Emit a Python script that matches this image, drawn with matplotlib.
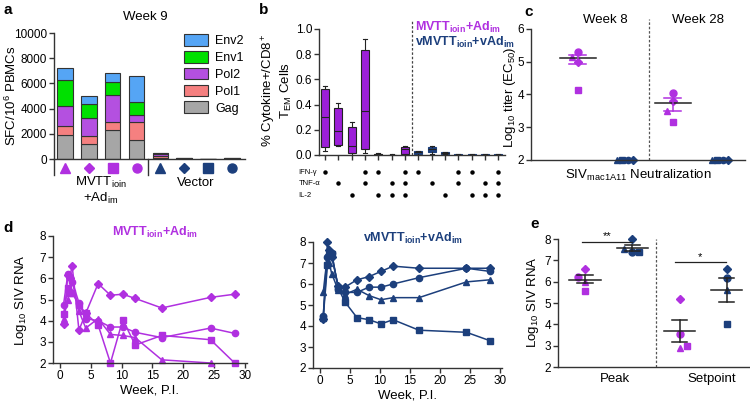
import matplotlib
matplotlib.use('Agg')
import matplotlib.pyplot as plt
import matplotlib.transforms as mtransforms
from matplotlib.patches import Patch
import numpy as np

plt.rcParams['font.family'] = ['Liberation Sans', 'DejaVu Sans']
plt.rcParams['mathtext.fontset'] = 'custom'
plt.rcParams['mathtext.rm'] = 'Liberation Sans'
plt.rcParams['mathtext.it'] = 'Liberation Sans:italic'
plt.rcParams['mathtext.bf'] = 'Liberation Sans:bold'

PINK = '#b030e0'
NAVY = '#1c3f7c'
AXC = '#333333'

# ---------------- data ----------------
# panel a (SFC / 10^6 PBMCs, Week 9), 4 vaccinees + 4 vector controls
a_markers = ['^', 'D', 's', 'o', '^', 'D', 's', 'o']
a_gag = [1900, 1200, 2300, 1500, 100, 25, 0, 20]
a_pol1 = [700, 650, 600, 1450, 150, 10, 0, 10]
a_pol2 = [1600, 1400, 2150, 550, 150, 10, 0, 10]
a_env1 = [2100, 1100, 1100, 1050, 40, 0, 0, 0]
a_env2 = [900, 650, 650, 2050, 60, 0, 0, 0]
a_labels = ['Gag', 'Pol1', 'Pol2', 'Env1', 'Env2']
a_colors = ['#a6a6a6', '#f58080', '#b450e0', '#00e000', '#55a5f5']

# panel b box statistics (7 cytokine combos x 2 groups)
b_med = [0.30, 0.19, 0.07, 0.35, 0.005, 0.0, 0.05,
         0.02, 0.05, 0.015, 0.003, 0.003, 0.002, 0.002]
b_q1 = [0.06, 0.08, 0.015, 0.05, 0.0, 0.0, 0.01,
        0.01, 0.02, 0.01, 0.0, 0.0, 0.0, 0.0]
b_q3 = [0.52, 0.37, 0.22, 0.83, 0.01, 0.003, 0.06,
        0.03, 0.06, 0.022, 0.005, 0.005, 0.004, 0.004]
b_lo = [0.03, 0.07, 0.0, 0.015, 0.0, 0.0, 0.005,
        0.0, 0.01, 0.005, 0.0, 0.0, 0.0, 0.0]
b_hi = [0.55, 0.41, 0.26, 0.92, 0.012, 0.004, 0.068,
        0.032, 0.072, 0.025, 0.006, 0.006, 0.005, 0.005]
b_ifn = [1, 0, 0, 1, 1, 0, 1] * 2
b_tnf = [0, 1, 0, 1, 0, 1, 1] * 2
b_il2 = [0, 0, 1, 0, 1, 1, 1] * 2

# panel c neutralization titers
c_markers = ['o', '^', 'D', 's']
c_pink_w8 = [5.3, 5.15, 5.0, 4.15]
c_pink_w28 = [4.05, 3.5, 3.8, 3.15]
c_vec_w8 = [2.0, 2.0, 2.0, 2.0]
c_vec_w28 = [2.0, 2.0, 2.0, 2.0]
c_mean = [5.1, 2.0, 3.75, 2.0]
c_err_lo = [4.92, 2.0, 3.5, 2.0]
c_err_hi = [5.2, 2.0, 3.9, 2.0]

# panel d viral loads
d_weeks = [0.6, 1.3, 1.6, 2.0, 3.1, 4.2, 6.2, 8.2, 10.2, 12.2, 16.5, 24.4, 28.3]
d_markers = ['D', 'o', '^', 's']
d_pink = [
    [3.85, 6.15, 6.0, 6.6, 3.55, 4.35, 5.75, 5.2, 5.25, 5.05, 4.6, 5.1, 5.25],
    [4.75, 6.2, 6.05, 5.85, 4.85, 4.1, 4.0, 3.7, 3.7, 3.45, 3.2, 3.65, 3.4],
    [4.1, 5.0, 5.5, 5.9, 4.45, 3.65, 4.1, 3.35, 3.3, 3.2, 2.15, 2.0, np.nan],
    [4.3, 5.55, 5.3, 5.3, 4.75, 4.35, 3.8, 2.0, 4.05, 2.85, 3.3, 3.1, 2.0],
]
d_navy = [
    [4.35, 8.0, 7.6, 7.3, 5.9, 5.85, 6.2, 6.35, 6.6, 6.85, 6.75, 6.75, 6.75],
    [4.5, 7.3, 7.4, 7.5, 5.75, 5.6, 5.6, 5.85, 5.85, 6.0, 6.3, 6.75, 6.6],
    [5.6, 7.4, 7.0, 6.5, 5.7, 5.5, 5.75, 5.45, 5.25, 5.35, 5.35, 6.1, 6.2],
    [4.4, 6.9, 7.4, 7.45, 5.8, 5.15, 4.4, 4.3, 4.1, 4.3, 3.8, 3.7, 3.3],
]

# panel e peak / setpoint (diamond, circle, triangle, square)
e_markers = ['D', 'o', '^', 's']
e_pink_peak = [6.6, 6.2, 6.0, 5.55]
e_navy_peak = [8.0, 7.4, 7.55, 7.4]
e_pink_set = [5.2, 3.55, 2.9, 3.0]
e_navy_set = [6.6, 6.15, 5.6, 4.0]
e_mean = [6.1, 7.58, 3.68, 5.6]
e_err_lo = [5.92, 7.45, 3.15, 5.05]
e_err_hi = [6.3, 7.72, 4.18, 6.15]

# ---------------- layout helpers ----------------
W, H = 750, 405
fig = plt.figure(figsize=(7.5, 4.05), dpi=100)


def axpx(l, t, r, b):
    return fig.add_axes([l / W, 1 - b / H, (r - l) / W, (b - t) / H])


def ftxt(x, y, s, **kw):
    kw.setdefault('va', 'center')
    fig.text(x / W, 1 - y / H, s, **kw)


def style(ax, tick_fs=8.5):
    for s in ['top', 'right']:
        ax.spines[s].set_visible(False)
    for s in ['left', 'bottom']:
        ax.spines[s].set_color(AXC)
        ax.spines[s].set_linewidth(1.0)
    ax.tick_params(direction='out', length=3.5, width=1.0, color=AXC,
                   labelsize=tick_fs, pad=1.5)


TFS = 8.5
LFS = 9.5

# ---------------- panel a ----------------
ax = axpx(54, 33, 245, 159)
style(ax)
x = np.arange(len(a_gag))
bottom = np.zeros(len(x))
handles = []
for vals, col, lab in zip([a_gag, a_pol1, a_pol2, a_env1, a_env2], a_colors, a_labels):
    ax.bar(x, vals, bottom=bottom, width=0.65, color=col, edgecolor='#333333',
           linewidth=0.8)
    bottom = bottom + np.array(vals)
    handles.append(Patch(facecolor=col, edgecolor='#333333', linewidth=0.8, label=lab))
ax.set_ylim(0, 10000)
ax.set_xlim(-0.46, 7.55)
ax.set_yticks(range(0, 10001, 2000))
ax.set_xticks([])
ftxt(11, 96, 'SFC/10$^6$ PBMCs', fontsize=LFS, rotation=90, ha='center')
ax.legend(handles=handles[::-1], loc='upper right', bbox_to_anchor=(1.02, 1.03),
          frameon=False, fontsize=9, handlelength=1.9, handleheight=1.05,
          labelspacing=0.3, handletextpad=0.6, borderaxespad=0)
trA = mtransforms.blended_transform_factory(ax.transData, ax.transAxes)
for i, m in enumerate(a_markers):
    col = PINK if i < 4 else NAVY
    ax.plot(x[i], -0.072, marker=m, color=col, ms=6.5 if m != 'D' else 5.5,
            transform=trA, clip_on=False, ls='none')
for xv in [-0.46, 3.5]:
    ax.plot([xv, xv], [0, -0.13], color=AXC, lw=1.0, transform=trA, clip_on=False)
ax.text(1.5, -0.19, 'MVTT$_{\\mathrm{ioin}}$', transform=trA, ha='center', va='center',
        fontsize=LFS)
ax.text(1.5, -0.31, '+Ad$_{\\mathrm{im}}$', transform=trA, ha='center', va='center',
        fontsize=LFS)
ax.text(5.5, -0.19, 'Vector', transform=trA, ha='center', va='center', fontsize=LFS)
ftxt(145, 17, 'Week 9', ha='center', fontsize=LFS)
ftxt(3, 10, 'a', fontsize=11, fontweight='bold')

# ---------------- panel b ----------------
ax = axpx(319, 29, 505, 155)
style(ax)
pos = np.arange(len(b_med))
stats = []
for i in range(len(b_med)):
    stats.append(dict(med=b_med[i], q1=b_q1[i], q3=b_q3[i],
                      whislo=b_lo[i], whishi=b_hi[i], fliers=[]))
bp = ax.bxp(stats, positions=pos, widths=0.6, patch_artist=True, showfliers=False,
            capwidths=0.3, manage_ticks=False,
            boxprops=dict(edgecolor='#222222', linewidth=0.8),
            medianprops=dict(color='#222222', linewidth=0.8),
            whiskerprops=dict(color='#222222', linewidth=0.8),
            capprops=dict(color='#222222', linewidth=0.8))
for i, b in enumerate(bp['boxes']):
    b.set_facecolor('#9c1fd8' if i < 7 else NAVY)
    if i >= 7:
        b.set_edgecolor(NAVY)
ax.set_ylim(0, 1.0)
ax.set_xlim(-0.45, 13.5)
ax.set_yticks(np.arange(0, 1.01, 0.2))
ax.set_yticklabels([f'{v:.1f}' for v in np.arange(0, 1.01, 0.2)])
ax.set_xticks(pos)
ax.set_xticklabels([])
ftxt(277, 90, '% Cytokine+/CD8$^+$\nT$_{\\mathrm{EM}}$ Cells', fontsize=LFS,
     rotation=90, ha='center', linespacing=1.0, multialignment='center')
ax.plot([6.5, 6.5], [0, 1.06], color='#444444', lw=0.9, ls=(0, (2, 1.5)),
        clip_on=False)
trB = mtransforms.blended_transform_factory(ax.transData, ax.transAxes)
for row, (name, flags) in enumerate([('IFN-γ', b_ifn), ('TNF-α', b_tnf), ('IL-2', b_il2)]):
    yy = [-0.135, -0.225, -0.32][row]
    ax.text(-2.0, yy, name, transform=trB, fontsize=5.5, ha='left', va='center')
    xs = [p for p, f in zip(pos, flags) if f]
    ax.plot(xs, [yy] * len(xs), 'o', color='black', ms=2.2, transform=trB,
            clip_on=False)
ftxt(415, 27, 'MVTT$_{\\mathbf{ioin}}$+Ad$_{\\mathbf{im}}$', color=PINK,
     fontsize=9, fontweight='bold', ha='left')
ftxt(415, 42, 'vMVTT$_{\\mathbf{ioin}}$+vAd$_{\\mathbf{im}}$', color=NAVY,
     fontsize=9, fontweight='bold', ha='left')
ftxt(259, 10, 'b', fontsize=11, fontweight='bold')

# ---------------- panel c ----------------
ax = axpx(531, 29, 745, 160)
style(ax)
ax.set_ylim(2, 6)
ax.set_xlim(0.02, 4.52)
ax.set_yticks(range(2, 7))
ax.set_xticks([])
ftxt(510, 97, 'Log$_{10}$ titer (EC$_{50}$)', fontsize=LFS, rotation=90, ha='center')
ax.set_xlabel('SIV$_{\\mathrm{mac1A11}}$ Neutralization', fontsize=LFS, labelpad=6)
c_jit_pink = [0.0, -0.12, 0.0, 0.0]
c_jit_vec = [-0.17, -0.06, 0.06, 0.17]
c_vec_markers = ['^', 's', 'o', 'D']
for gx, vals in [(1, c_pink_w8), (3, c_pink_w28)]:
    for v, m, j in zip(vals, c_markers, c_jit_pink):
        ax.plot(gx + j, v, marker=m, color=PINK, ms=5 if m != 'D' else 4.5,
                ls='none', clip_on=False)
for gx, vals in [(2, c_vec_w8), (4, c_vec_w28)]:
    for v, m, j in zip(vals, c_vec_markers, c_jit_vec):
        ax.plot(gx + j, v, marker=m, color=NAVY, ms=4.5, ls='none', clip_on=False)
for gx in [1, 3]:
    i = gx - 1
    ax.plot([gx - 0.38, gx + 0.38], [c_mean[i]] * 2, color='#222222', lw=1.1)
    ax.plot([gx, gx], [c_err_lo[i], c_err_hi[i]], color=PINK, lw=1.1)
    for yv in [c_err_lo[i], c_err_hi[i]]:
        ax.plot([gx - 0.18, gx + 0.18], [yv, yv], color=PINK, lw=1.1)
ax.plot([2.5, 2.5], [2, 6.3], color='#555555', lw=0.9, ls=(0, (2, 1.5)),
        clip_on=False)
ftxt(605, 20, 'Week 8', ha='center', fontsize=LFS)
ftxt(698, 20, 'Week 28', ha='center', fontsize=LFS)
ftxt(524, 12, 'c', fontsize=11, fontweight='bold')

# ---------------- panel d ----------------
for (l, t, r, b), series, col, title, tx, ylab in [
        ((53, 236, 247, 363), d_pink, PINK,
         'MVTT$_{\\mathbf{ioin}}$+Ad$_{\\mathbf{im}}$', 155, True),
        ((313, 242, 502, 368), d_navy, NAVY,
         'vMVTT$_{\\mathbf{ioin}}$+vAd$_{\\mathbf{im}}$', 413, False)]:
    ax = axpx(l, t, r, b)
    style(ax)
    for vals, m in zip(series, d_markers):
        ax.plot(d_weeks, vals, color=col, lw=1.1, marker=m,
                ms=4.5 if m != 'D' else 4.0, clip_on=False)
    ax.set_ylim(2, 8)
    ax.set_xlim(-1.1, 30.3)
    ax.set_yticks(range(2, 9))
    ax.set_xticks(range(0, 31, 5))
    ax.set_xlabel('Week, P.I.', fontsize=LFS, labelpad=2)
    if ylab:
        ftxt(21, 300, 'Log$_{10}$ SIV RNA', fontsize=LFS, rotation=90, ha='center')
    ftxt(tx, t - 4, title, color=col, fontsize=9, fontweight='bold', ha='center')
ftxt(3, 228, 'd', fontsize=11, fontweight='bold')

# ---------------- panel e ----------------
ax = axpx(558, 239, 750, 367)
style(ax)
ax.set_ylim(2, 8)
ax.set_xlim(0.43, 4.49)
ax.set_yticks(range(2, 9))
ax.set_xticks([1.63, 3.69])
ax.set_xticklabels(['Peak', 'Setpoint'], fontsize=LFS)
ax.tick_params(axis='x', length=0, pad=4)
ftxt(533, 302, 'Log$_{10}$ SIV RNA', fontsize=LFS, rotation=90, ha='center')
e_jit = {1: [0.0, -0.15, 0.0, 0.0], 2: [0.0, 0.0, -0.17, 0.15],
         3: [0.0, 0.0, 0.0, 0.15], 4: [0.0, 0.0, 0.0, 0.0]}
for gx, vals, col in [(1, e_pink_peak, PINK), (2, e_navy_peak, NAVY),
                      (3, e_pink_set, PINK), (4, e_navy_set, NAVY)]:
    for v, m, j in zip(vals, e_markers, e_jit[gx]):
        ax.plot(gx + j, v, marker=m, color=col, ms=5 if m != 'D' else 4.5,
                ls='none', clip_on=False)
    i = gx - 1
    ax.plot([gx - 0.33, gx + 0.33], [e_mean[i]] * 2, color='#222222', lw=1.1)
    ax.plot([gx, gx], [e_err_lo[i], e_err_hi[i]], color='#222222', lw=1.1)
    for yv in [e_err_lo[i], e_err_hi[i]]:
        ax.plot([gx - 0.16, gx + 0.16], [yv, yv], color='#222222', lw=1.1)
ax.plot([2.5, 2.5], [2, 8.0], color='#555555', lw=0.9, ls=(0, (2, 1.5)),
        clip_on=False)
ax.plot([0.94, 2.0], [7.85, 7.85], color='#222222', lw=0.9, clip_on=False)
ax.text(1.47, 7.88, '**', ha='center', va='bottom', fontsize=8)
ax.plot([2.9, 3.98], [6.9, 6.9], color='#222222', lw=0.9, clip_on=False)
ax.text(3.44, 6.93, '*', ha='center', va='bottom', fontsize=8)
ftxt(530, 224, 'e', fontsize=11, fontweight='bold')

fig.savefig('out.png', dpi=100)
